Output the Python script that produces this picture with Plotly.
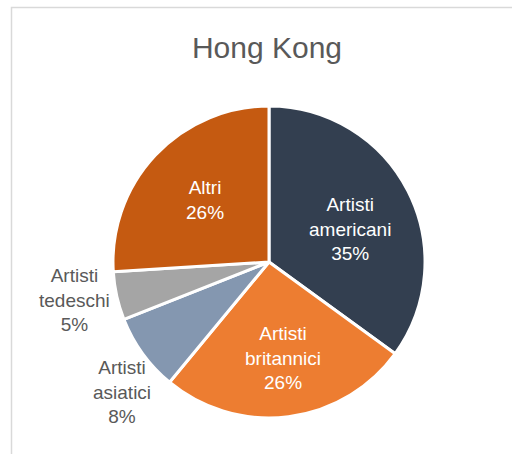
import plotly.graph_objects as go

# Quote degli artisti per provenienza - Hong Kong
categorie = ["Artisti<br>americani", "Artisti<br>britannici", "Artisti<br>asiatici",
             "Artisti<br>tedeschi", "Altri"]
quote = [35, 26, 8, 5, 26]
colori = ["#333F50", "#ED7D31", "#8497B0", "#A5A5A5", "#C55A11"]

# posizione (px) e colore di ogni etichetta
pos_etichette = [(350, 229), (283, 358), (122, 392), (74, 300), (205, 200)]
colori_testo = ["#FFFFFF", "#FFFFFF", "#595959", "#595959", "#FFFFFF"]

W, H = 512, 454
cx, cy, r = 269, 262, 156
FONT = "Liberation Sans, Arial, sans-serif"

fig = go.Figure(go.Pie(
    labels=categorie,
    values=quote,
    sort=False,
    direction="clockwise",
    rotation=0,
    marker=dict(colors=colori, line=dict(color="#FFFFFF", width=3)),
    textinfo="none",
    showlegend=False,
    hoverinfo="skip",
    domain=dict(x=[(cx - r) / W, (cx + r) / W],
                y=[(H - cy - r) / H, (H - cy + r) / H]),
))

totale = sum(quote)
annotazioni = []
for cat, q, (px, py), col in zip(categorie, quote, pos_etichette, colori_testo):
    annotazioni.append(dict(
        text=f"{cat}<br>{round(100 * q / totale)}%",
        x=px / W, y=1 - py / H, xref="paper", yref="paper",
        xanchor="center", yanchor="middle", align="center", showarrow=False,
        font=dict(family=FONT, size=19, color=col),
    ))

fig.update_layout(
    width=W, height=H,
    margin=dict(l=0, r=0, t=0, b=0),
    paper_bgcolor="#FFFFFF",
    title=dict(text="Hong Kong", x=267 / W, xanchor="center", y=1 - 47 / H, yanchor="middle",
               font=dict(family=FONT, size=30, color="#595959")),
    annotations=annotazioni,
    shapes=[dict(type="rect", xref="paper", yref="paper",
                 x0=11.5 / W, x1=1.2, y0=-0.2, y1=1 - 7.5 / H,
                 line=dict(color="#D9D9D9", width=1.5), fillcolor="rgba(0,0,0,0)")],
)

fig.write_html("out.html")
